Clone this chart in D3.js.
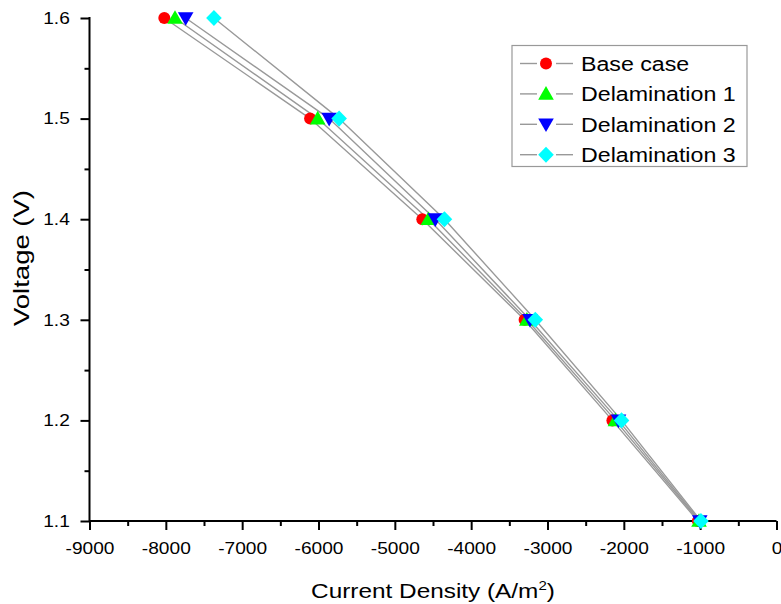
<!DOCTYPE html>
<html><head><meta charset="utf-8">
<script src="https://cdn.jsdelivr.net/npm/d3@7"></script>
<style>body{margin:0;background:#fff}svg{display:block}text{font-family:"Liberation Sans",Arial,sans-serif}</style>
</head><body>
<svg id="c" width="781" height="604"></svg>
<script>
const voltages = [1.6, 1.5, 1.4, 1.3, 1.2, 1.1];
const seriesNames = ["Base case", "Delamination 1", "Delamination 2", "Delamination 3"];
const baseCase = [-8020, -6110, -4640, -3300, -2150, -1030];
const delam1 = [-7880, -6010, -4560, -3270, -2110, -1015];
const delam2 = [-7740, -5860, -4470, -3230, -2070, -1005];
const delam3 = [-7370, -5730, -4350, -3160, -2030, -990];
const colors = ["#ff0000", "#00ff00", "#0000ff", "#00ffff"];
const symbols = ["circle", "up", "down", "diamond"];
const xTicks = [-9000,-8000,-7000,-6000,-5000,-4000,-3000,-2000,-1000,0];
const yTicks = [1.1,1.2,1.3,1.4,1.5,1.6];

const SX = 1.16;
const allSeries = [baseCase, delam1, delam2, delam3];
const svg = d3.select("#c");
const x = d3.scaleLinear().domain([-9000, 0]).range([89.5, 776.5]);
const y = d3.scaleLinear().domain([1.1, 1.6]).range([521, 18]);

// axes
const xAxis = svg.append("g").attr("transform","translate(0,521)")
  .call(d3.axisBottom(x).tickValues(xTicks).tickSize(9).tickPadding(12).tickFormat(d=>String(d)));
const xMinor = svg.append("g").attr("transform","translate(0,521)")
  .call(d3.axisBottom(x).tickValues(d3.range(-8500,0,1000)).tickSize(5).tickFormat(""));
const yAxis = svg.append("g").attr("transform","translate(89.5,0)")
  .call(d3.axisLeft(y).tickValues(yTicks).tickSize(9).tickPadding(8).tickFormat(d3.format(".1f")));
const yMinor = svg.append("g").attr("transform","translate(89.5,0)")
  .call(d3.axisLeft(y).tickValues([1.15,1.25,1.35,1.45,1.55]).tickSize(5).tickFormat(""));
[xAxis,xMinor,yAxis,yMinor].forEach(g=>{
  g.selectAll(".domain").attr("stroke","#000").attr("stroke-width",2);
  g.selectAll(".tick line").attr("stroke","#000").attr("stroke-width",2);
  g.selectAll("text").attr("font-size",16.5).attr("fill","#000")
    .attr("font-family","Liberation Sans, Arial, sans-serif")
    .attr("transform",`scale(${SX},1)`);
});
xAxis.select(".domain").attr("d","M89.5,0H776.5");
xMinor.select(".domain").remove();
yMinor.select(".domain").remove();
yAxis.select(".domain").attr("d","M0,521V17");

function sym(type, s){
  if(type==="circle") return d3.symbol().type(d3.symbolCircle).size(Math.PI*36)();
  if(type==="up") return `M0,${-s*0.6}L${s*0.6},${s*0.45}L${-s*0.6},${s*0.45}Z`;
  if(type==="down") return `M0,${s*0.6}L${s*0.6},${-s*0.45}L${-s*0.6},${-s*0.45}Z`;
  return `M0,${-s*0.62}L${s*0.6},0L0,${s*0.62}L${-s*0.6},0Z`;
}

const line = d3.line().x(d=>x(d[0])).y(d=>y(d[1]));
allSeries.forEach((s,i)=>{
  svg.append("path").datum(s.map((v,j)=>[v,voltages[j]])).attr("d",line)
    .attr("fill","none").attr("stroke","#999").attr("stroke-width",1.4);
});
allSeries.forEach((s,i)=>{
  svg.append("g").selectAll("path").data(s.map((v,j)=>[v,voltages[j]])).join("path")
    .attr("transform",d=>`translate(${x(d[0])},${y(d[1])})`)
    .attr("d",sym(symbols[i],13)).attr("fill",colors[i]);
});

function stext(parent, px, py, size, str, anchor, rot, sx){
  const g = parent.append("g").attr("transform",`translate(${px},${py})` + (rot?` rotate(${rot})`:"") + ` scale(${sx||SX},1)`);
  return g.append("text").attr("font-size",size).attr("fill","#000").attr("text-anchor",anchor||"start").text(str);
}

// legend
const lg = svg.append("g");
lg.append("rect").attr("x",512).attr("y",45.5).attr("width",235).attr("height",121)
  .attr("fill","#fff").attr("stroke","#999").attr("stroke-width",1.2);
seriesNames.forEach((n,i)=>{
  const yy = 63.5 + i*30.4;
  lg.append("line").attr("x1",520).attr("x2",537).attr("y1",yy).attr("y2",yy).attr("stroke","#999").attr("stroke-width",1.4);
  lg.append("line").attr("x1",556).attr("x2",573).attr("y1",yy).attr("y2",yy).attr("stroke","#999").attr("stroke-width",1.4);
  lg.append("path").attr("transform",`translate(546,${yy})`).attr("d",sym(symbols[i],13)).attr("fill",colors[i]);
  stext(lg, 581, yy+7.5, 20, n);
});

// titles
stext(svg, 29, 258, 22, "Voltage (V)", "middle", -90, 1.25);
const xt = stext(svg, 433, 598, 21, "", "middle");
xt.append("tspan").text("Current Density (A/m");
xt.append("tspan").attr("dy",-8).attr("font-size",13).text("2");
xt.append("tspan").attr("dy",8).text(")");
</script>
</body></html>
